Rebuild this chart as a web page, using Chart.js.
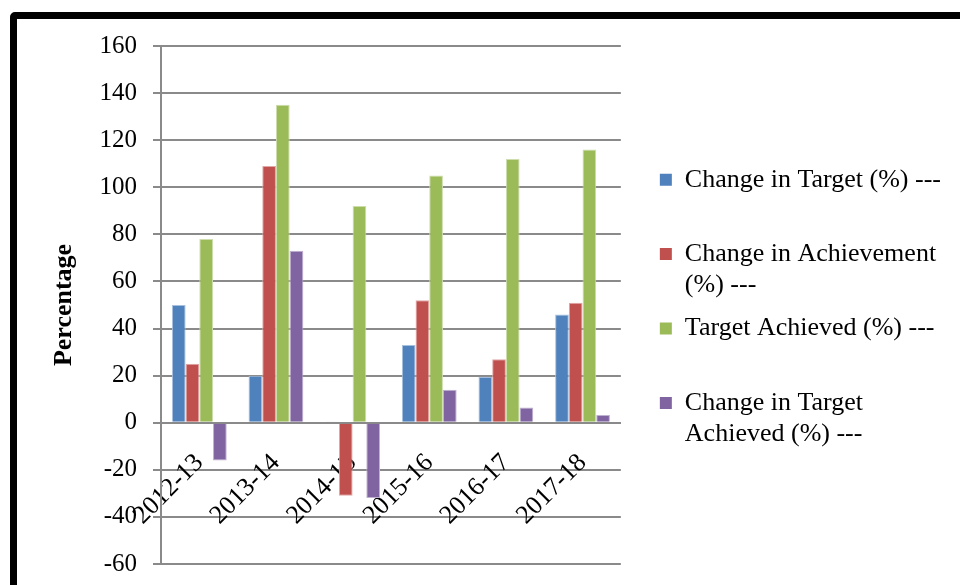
<!DOCTYPE html>
<html>
<head>
<meta charset="utf-8">
<script src="https://cdn.jsdelivr.net/npm/chart.js@4/dist/chart.umd.min.js"></script>
<style>
  html, body { margin: 0; padding: 0; background: #fff; overflow: hidden; }
  #frame {
    position: absolute; left: 10px; top: 12px;
    width: 990px; height: 620px;
    border: 7px solid #000; border-radius: 5px;
  }
  #wrap { position: absolute; left: 0; top: 0; width: 960px; height: 595px; }
</style>
</head>
<body>
<div id="frame"></div>
<div id="wrap"><canvas id="chart" width="960" height="595"></canvas></div>
<script>
const years = ["2012-13", "2013-14", "2014-15", "2015-16", "2016-17", "2017-18"];

const changeInTarget = [50, 20, 0.5, 33, 19.5, 46];
const changeInAchievement = [25, 109, -31, 52, 27, 51];
const targetAchieved = [78, 135, 92, 105, 112, 116];
const changeInTargetAchieved = [-16, 73, -32, 14, 6.5, 3.3];

// legend text, one entry per line
const seriesNames = [
  ["Change in Target (%) ---", ""],
  ["Change in Achievement", "(%) ---"],
  ["Target Achieved (%) ---", ""],
  ["Change in Target", "Achieved (%) ---"]
];
const seriesColors = ["#4F81BD", "#C0504D", "#9BBB59", "#8064A2"];
const seriesEdges = ["#A7C0DE", "#DFA7A6", "#CDDDAC", "#BFB1D0"];

const yTicks = { min: -60, max: 160, step: 20 };

const serif = "'Liberation Serif', 'Times New Roman', serif";
const gridGray = "#8A8A8A";

const values = [changeInTarget, changeInAchievement, targetAchieved, changeInTargetAchieved];

new Chart(document.getElementById("chart").getContext("2d"), {
  type: "bar",
  data: {
    labels: years,
    datasets: values.map((data, i) => ({
      label: seriesNames[i].join(" ").trim(),
      data: data,
      backgroundColor: seriesColors[i],
      borderColor: seriesEdges[i],
      borderWidth: 1,
      categoryPercentage: 0.715,
      barPercentage: 1.0
    }))
  },
  options: {
    responsive: false,
    animation: false,
    layout: { padding: { left: 49, top: 46, bottom: 22, right: 9 } },
    plugins: {
      tooltip: { enabled: false },
      legend: {
        position: "right",
        maxWidth: 320,
        labels: {
          boxWidth: 12,
          boxHeight: 12,
          padding: 12,
          color: "#000",
          font: { family: serif, size: 26, lineHeight: 1.2 },
          generateLabels: (chart) =>
            Chart.defaults.plugins.legend.labels.generateLabels(chart).map((item, i) => ({
              ...item,
              text: seriesNames[i],
              strokeStyle: seriesColors[i],
              lineWidth: 0
            }))
        }
      }
    },
    scales: {
      x: {
        position: { y: 0 },
        grid: { display: false, drawTicks: false },
        border: { display: true, color: gridGray, width: 2 },
        ticks: {
          color: "#000",
          autoSkip: false,
          minRotation: 45,
          maxRotation: 45,
          padding: 25,
          font: { family: serif, size: 26, lineHeight: 1.2 }
        }
      },
      y: {
        position: "left",
        min: yTicks.min,
        max: yTicks.max,
        afterFit: (scale) => { scale.width = 112; },
        grid: { color: gridGray, lineWidth: 2, tickLength: 8, drawTicks: true },
        border: { display: true, color: gridGray, width: 2 },
        ticks: {
          stepSize: yTicks.step,
          color: "#000",
          padding: 16,
          font: { family: serif, size: 25, lineHeight: 1.2 }
        },
        title: {
          display: true,
          text: "Percentage",
          color: "#000",
          padding: 0,
          font: { family: serif, size: 26, weight: "bold", lineHeight: 1.2 }
        }
      },
      // empty strip between the plot and the legend
      gap: {
        type: "linear",
        position: "right",
        display: true,
        afterFit: (scale) => { scale.width = 27; },
        grid: { display: false, drawTicks: false },
        border: { display: false },
        ticks: { display: false }
      }
    }
  }
});
</script>
</body>
</html>
